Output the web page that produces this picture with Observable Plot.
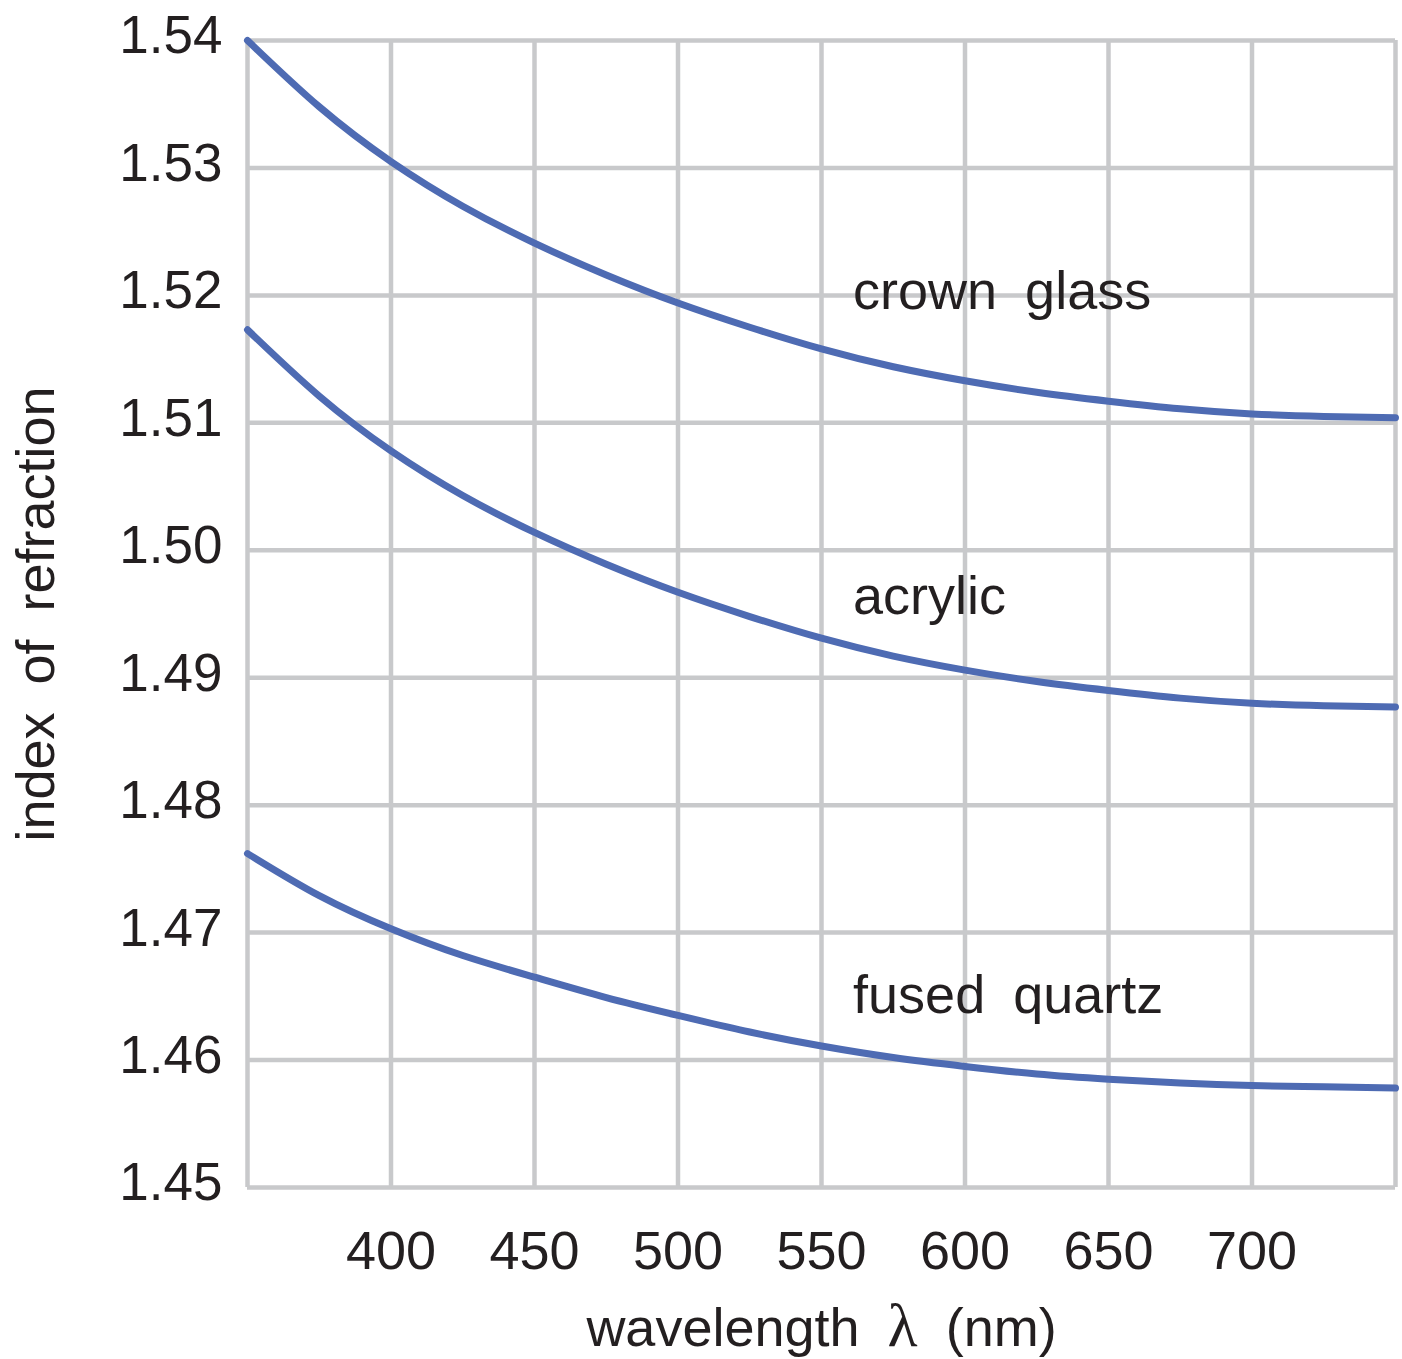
<!DOCTYPE html>
<html>
<head>
<meta charset="utf-8">
<script src="https://cdn.jsdelivr.net/npm/d3@7"></script>
<script src="https://cdn.jsdelivr.net/npm/@observablehq/plot@0.6"></script>
<style>
  html, body { margin: 0; padding: 0; background: #fff; }
  #chart svg text { word-spacing: 13px; }
</style>
</head>
<body>
<div id="chart"></div>
<script>
// wavelength samples (nm)
const wavelengths = [350, 375, 400, 425, 450, 475, 500, 525, 550, 575, 600, 625, 650, 675, 700, 725, 750];

// index of refraction per material
const crownGlass  = [1.5400, 1.5348, 1.5305, 1.5270, 1.5241, 1.5216, 1.5194, 1.5175, 1.5158, 1.5144, 1.5133, 1.5124, 1.5117, 1.5111, 1.5107, 1.5105, 1.5104];
const acrylic     = [1.5173, 1.5121, 1.5078, 1.5043, 1.5014, 1.4989, 1.4967, 1.4948, 1.4931, 1.4917, 1.4906, 1.4897, 1.4890, 1.4884, 1.4880, 1.4878, 1.4877];
const fusedQuartz = [1.4762, 1.4729, 1.4703, 1.4682, 1.4665, 1.4649, 1.4635, 1.4622, 1.4611, 1.4602, 1.4595, 1.4589, 1.4585, 1.4582, 1.4580, 1.4579, 1.4578];

const materials = ["crown glass", "acrylic", "fused quartz"];
const seriesValues = [crownGlass, acrylic, fusedQuartz];

// label anchor points (data space)
const labelWavelengths = [561, 561, 561];
const labelIndices = [1.5189, 1.4950, 1.4637];

// ticks and grid
const xGrid = [350, 400, 450, 500, 550, 600, 650, 700, 750];
const xTickLabels = [400, 450, 500, 550, 600, 650, 700];
const yTicks = [1.45, 1.46, 1.47, 1.48, 1.49, 1.50, 1.51, 1.52, 1.53, 1.54];

const xTitle = "wavelength λ (nm)";
const yTitle = "index of refraction";

const rows = materials.flatMap((m, i) =>
  wavelengths.map((w, j) => ({material: m, wavelength: w, n: seriesValues[i][j]}))
);
const labels = materials.map((m, i) => ({text: m, wavelength: labelWavelengths[i], n: labelIndices[i]}));

const gridColor = "#c8c9cb";
const lineColor = "#4e6bb3";
const textColor = "#231f20";

const chart = Plot.plot({
  width: 1402,
  height: 1359,
  marginLeft: 247,
  marginRight: 7,
  marginTop: 40,
  marginBottom: 172,
  x: {domain: [350, 750]},
  y: {domain: [1.45, 1.54]},
  style: {
    fontFamily: "'Liberation Sans', Arial, Helvetica, sans-serif",
    fontSize: "54px",
    color: textColor,
    background: "#fff"
  },
  marks: [
    Plot.ruleX(xGrid, {stroke: gridColor, strokeWidth: 4.5, strokeOpacity: 1}),
    Plot.ruleY(yTicks, {stroke: gridColor, strokeWidth: 4.5, strokeOpacity: 1}),
    Plot.axisX(xTickLabels, {tickSize: 0, tickPadding: 43, fontSize: 54, label: null, fill: textColor}),
    Plot.axisY(yTicks, {tickSize: 0, tickPadding: 25, fontSize: 53, label: null, tickFormat: d3.format(".2f"), dy: -4, fill: textColor}),
    Plot.line(rows, {x: "wavelength", y: "n", z: "material", stroke: lineColor, strokeWidth: 7, curve: "natural"}),
    Plot.text(labels, {x: "wavelength", y: "n", text: "text", textAnchor: "start", lineAnchor: "bottom", fontSize: 54, fill: textColor}),
    Plot.text([xTitle], {frameAnchor: "bottom", textAnchor: "middle", dy: 158, text: d => d, lineAnchor: "bottom", fontSize: 54, fill: textColor}),
    Plot.text([yTitle], {frameAnchor: "left", textAnchor: "middle", rotate: -90, dx: -194, text: d => d, lineAnchor: "bottom", fontSize: 54, fill: textColor})
  ]
});

document.getElementById("chart").appendChild(chart);

// render the lambda in a serif face, as in the reference
chart.querySelectorAll("text").forEach(t => {
  if (t.textContent === xTitle) {
    const target = t.querySelector("tspan") || t;
    const parts = xTitle.split("λ");
    target.textContent = "";
    const ns = "http://www.w3.org/2000/svg";
    const a = document.createElementNS(ns, "tspan"); a.textContent = parts[0];
    const l = document.createElementNS(ns, "tspan"); l.textContent = "λ";
    l.setAttribute("font-family", "'Liberation Serif', 'DejaVu Serif', serif");
    l.setAttribute("font-size", "62");
    const b = document.createElementNS(ns, "tspan"); b.textContent = parts[1];
    target.append(a, l, b);
  }
});
</script>
</body>
</html>
